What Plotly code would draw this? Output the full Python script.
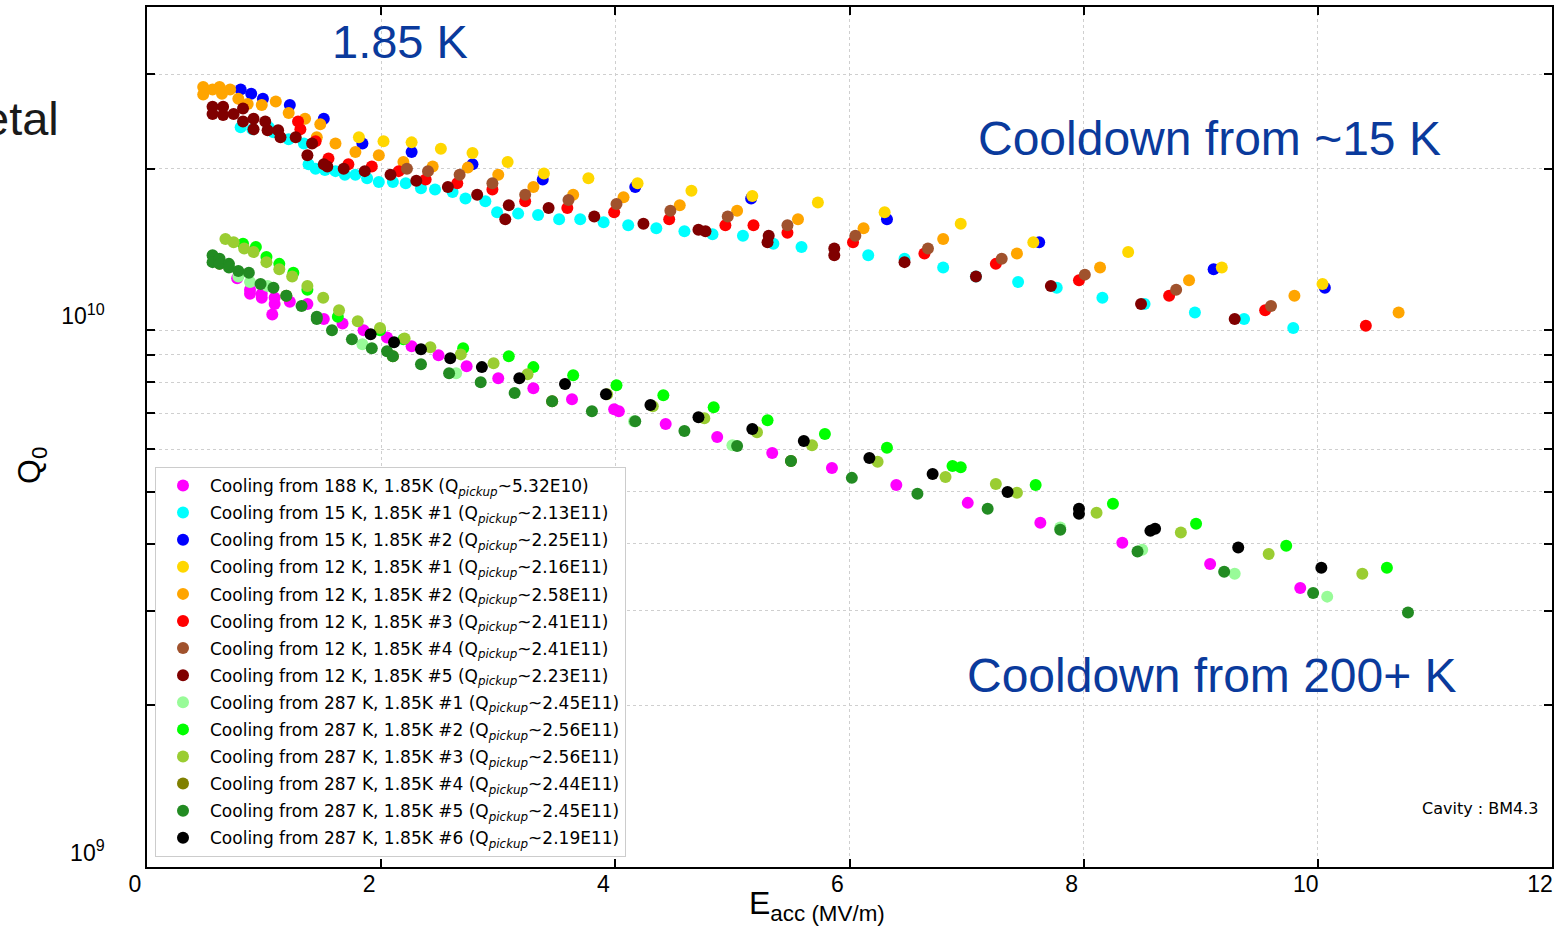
import plotly.graph_objects as go

# ---------------- data (E_acc in MV/m, Q0 in units of 1e10) ----------------
names = [
    "Cooling from 188 K, 1.85K (Q<sub><i>pickup</i></sub>~5.32E10)",
    "Cooling from 15 K, 1.85K #1 (Q<sub><i>pickup</i></sub>~2.13E11)",
    "Cooling from 15 K, 1.85K #2 (Q<sub><i>pickup</i></sub>~2.25E11)",
    "Cooling from 12 K, 1.85K #1 (Q<sub><i>pickup</i></sub>~2.16E11)",
    "Cooling from 12 K, 1.85K #2 (Q<sub><i>pickup</i></sub>~2.58E11)",
    "Cooling from 12 K, 1.85K #3 (Q<sub><i>pickup</i></sub>~2.41E11)",
    "Cooling from 12 K, 1.85K #4 (Q<sub><i>pickup</i></sub>~2.41E11)",
    "Cooling from 12 K, 1.85K #5 (Q<sub><i>pickup</i></sub>~2.23E11)",
    "Cooling from 287 K, 1.85K #1 (Q<sub><i>pickup</i></sub>~2.45E11)",
    "Cooling from 287 K, 1.85K #2 (Q<sub><i>pickup</i></sub>~2.56E11)",
    "Cooling from 287 K, 1.85K #3 (Q<sub><i>pickup</i></sub>~2.56E11)",
    "Cooling from 287 K, 1.85K #4 (Q<sub><i>pickup</i></sub>~2.44E11)",
    "Cooling from 287 K, 1.85K #5 (Q<sub><i>pickup</i></sub>~2.45E11)",
    "Cooling from 287 K, 1.85K #6 (Q<sub><i>pickup</i></sub>~2.19E11)",
]
colors = ["#ff00ff", "#00ffff", "#0000ff", "#ffd700", "#ffa500", "#ff0000", "#a0522d",
          "#800000", "#98fb98", "#00ff00", "#9acd32", "#808000", "#228b22", "#000000"]

c188_x = [0.77, 0.88, 0.88, 0.98, 0.98, 1.09, 1.09, 1.07, 1.22, 1.37, 1.51, 1.67, 1.85, 2.05,
          2.26, 2.49, 2.73, 3.00, 3.30, 3.63, 3.99, 4.03, 4.43, 4.87, 5.34, 5.85, 6.40, 7.01,
          7.63, 8.33, 9.08, 9.85]
c188_q = [1.25, 1.19, 1.17, 1.17, 1.15, 1.15, 1.12, 1.07, 1.13, 1.12, 1.05, 1.03, 1.00, 0.970,
          0.934, 0.899, 0.857, 0.814, 0.780, 0.744, 0.713, 0.707, 0.669, 0.633, 0.591, 0.554,
          0.515, 0.477, 0.438, 0.402, 0.367, 0.331]

c15a_x = [0.80, 0.90, 1.04, 1.08, 1.21, 1.34, 1.38, 1.44, 1.52, 1.61, 1.69, 1.78, 1.88, 1.98,
          2.10, 2.21, 2.34, 2.46, 2.61, 2.72, 2.89, 2.99, 3.17, 3.34, 3.52, 3.70, 3.90, 4.11,
          4.35, 4.59, 4.83, 5.09, 5.35, 5.59, 6.16, 6.47, 6.80, 7.08, 7.44, 7.77, 8.16, 8.52,
          8.95, 9.37, 9.79]
c15a_q = [2.39, 2.37, 2.39, 2.34, 2.27, 2.23, 2.04, 2.00, 1.99, 1.98, 1.95, 1.95, 1.92, 1.89,
          1.89, 1.88, 1.84, 1.83, 1.81, 1.76, 1.74, 1.66, 1.65, 1.64, 1.61, 1.61, 1.59, 1.57,
          1.55, 1.53, 1.51, 1.50, 1.45, 1.43, 1.38, 1.36, 1.31, 1.26, 1.23, 1.20, 1.15, 1.12,
          1.08, 1.05, 1.01]

c15b_x = [0.80, 0.89, 0.99, 1.22, 1.51, 1.84, 2.26, 2.78, 3.38, 4.17, 5.16, 6.32, 7.62, 9.11, 10.06]
c15b_q = [2.81, 2.76, 2.70, 2.63, 2.48, 2.23, 2.15, 2.04, 1.91, 1.85, 1.76, 1.61, 1.46, 1.30, 1.20]

c12a_x = [1.81, 2.02, 2.26, 2.51, 2.78, 3.08, 3.39, 3.77, 4.19, 4.65, 5.17, 5.73, 6.30, 6.95,
          7.57, 8.38, 9.18, 10.04]
c12a_q = [2.29, 2.25, 2.24, 2.18, 2.14, 2.06, 1.96, 1.92, 1.88, 1.82, 1.78, 1.73, 1.66, 1.58,
          1.46, 1.40, 1.31, 1.22]

c12b_x = [0.48, 0.48, 0.56, 0.62, 0.64, 0.71, 0.78, 0.86, 0.98, 1.10, 1.21, 1.35, 1.48, 1.45,
          1.61, 1.78, 1.98, 2.19, 2.44, 2.74, 3.00, 3.30, 3.64, 4.07, 4.55, 5.04, 5.56, 6.12,
          6.80, 7.43, 8.14, 8.90, 9.80, 10.69]
c12b_q = [2.84, 2.75, 2.81, 2.84, 2.76, 2.81, 2.70, 2.64, 2.63, 2.67, 2.54, 2.48, 2.42, 2.29,
          2.23, 2.15, 2.12, 2.06, 2.02, 2.01, 1.95, 1.85, 1.79, 1.77, 1.71, 1.67, 1.61, 1.55,
          1.48, 1.39, 1.31, 1.24, 1.16, 1.08]

c12c_x = [1.29, 1.31, 1.44, 1.55, 1.72, 1.92, 2.15, 2.38, 2.65, 2.95, 3.23, 3.59, 3.99, 4.46,
          4.94, 5.18, 5.47, 6.03, 6.64, 7.25, 7.96, 8.73, 9.55, 10.41]
c12c_q = [2.45, 2.37, 2.25, 2.09, 2.04, 2.02, 1.98, 1.91, 1.88, 1.83, 1.74, 1.69, 1.66, 1.61,
          1.57, 1.57, 1.52, 1.46, 1.39, 1.33, 1.24, 1.16, 1.09, 1.02]

c12d_x = [2.22, 2.40, 2.67, 2.95, 3.23, 3.60, 4.01, 4.47, 4.96, 5.47, 6.05, 6.67, 7.30, 8.01,
          8.79, 9.60]
c12d_q = [2.00, 1.98, 1.95, 1.88, 1.79, 1.75, 1.72, 1.67, 1.63, 1.57, 1.50, 1.42, 1.36, 1.27,
          1.19, 1.11]

c12e_x = [0.56, 0.56, 0.65, 0.65, 0.74, 0.82, 0.82, 0.91, 0.91, 1.01, 1.03, 1.12, 1.14, 1.27,
          1.37, 1.41, 1.51, 1.54, 1.68, 1.86, 2.08, 2.30, 2.57, 2.82, 3.09, 3.06, 3.43, 3.82,
          4.24, 4.71, 4.77, 5.31, 5.30, 5.87, 5.87, 6.47, 7.08, 7.72, 8.49, 9.29]
c12e_q = [2.61, 2.53, 2.61, 2.52, 2.53, 2.59, 2.45, 2.48, 2.37, 2.45, 2.36, 2.36, 2.29, 2.29,
          2.12, 2.23, 2.04, 2.02, 2.00, 1.98, 1.95, 1.90, 1.85, 1.79, 1.71, 1.61, 1.69, 1.63,
          1.58, 1.54, 1.53, 1.50, 1.46, 1.42, 1.38, 1.34, 1.26, 1.21, 1.12, 1.05]

c287a_x = [0.78, 0.88, 1.03, 1.84, 2.64, 4.16, 5.00, 7.80, 8.50, 9.29, 10.08]
c287a_q = [1.26, 1.23, 1.21, 0.942, 0.832, 0.677, 0.611, 0.429, 0.390, 0.352, 0.319]

c287b_x = [0.82, 0.93, 1.02, 1.13, 1.25, 1.37, 1.63, 1.99, 2.19, 2.70, 3.09, 3.30, 3.64, 4.01,
           4.41, 4.84, 5.30, 5.79, 6.32, 6.88, 6.95, 7.59, 8.25, 8.96, 9.73, 10.59]
c287b_q = [1.45, 1.43, 1.37, 1.33, 1.28, 1.19, 1.06, 1.00, 0.962, 0.926, 0.895, 0.854, 0.825,
           0.790, 0.757, 0.719, 0.680, 0.641, 0.604, 0.559, 0.556, 0.515, 0.475, 0.436, 0.397,
           0.361]

c287c_x = [0.67, 0.74, 0.83, 0.91, 1.02, 1.13, 1.24, 1.37, 1.505, 1.64, 1.80, 1.99, 2.20, 2.42,
           2.68, 2.96, 3.25, 3.93, 4.32, 4.76, 5.21, 5.68, 6.24, 6.82, 7.25, 7.43, 8.11, 8.83,
           9.58, 10.38]
c287c_q = [1.48, 1.46, 1.42, 1.40, 1.34, 1.30, 1.26, 1.21, 1.15, 1.09, 1.04, 1.01, 0.966, 0.930,
           0.902, 0.868, 0.828, 0.760, 0.722, 0.686, 0.646, 0.611, 0.569, 0.533, 0.517, 0.498,
           0.457, 0.420, 0.383, 0.352]

c287d_x = [0.62, 1.19, 2.10, 3.46, 5.50]
c287d_q = [1.33, 1.16, 0.895, 0.738, 0.571]

c287e_x = [0.56, 0.56, 0.62, 0.62, 0.70, 0.70, 0.78, 0.87, 0.97, 1.08, 1.19, 1.32, 1.45, 1.45,
           1.58, 1.75, 1.92, 2.05, 2.10, 2.34, 2.58, 2.85, 3.14, 3.46, 3.80, 4.17, 4.59, 5.04,
           5.50, 6.02, 6.58, 7.18, 7.80, 8.46, 9.20, 9.96, 10.77]
c287e_q = [1.38, 1.34, 1.36, 1.33, 1.33, 1.31, 1.29, 1.28, 1.22, 1.20, 1.16, 1.11, 1.06, 1.05,
           1.00, 0.962, 0.926, 0.914, 0.895, 0.865, 0.832, 0.800, 0.764, 0.738, 0.707, 0.677,
           0.649, 0.609, 0.571, 0.531, 0.496, 0.465, 0.425, 0.387, 0.355, 0.324, 0.298]

c287f_x = [1.91, 2.11, 2.34, 2.59, 2.86, 3.18, 3.57, 3.92, 4.30, 4.71, 5.17, 5.61, 6.17, 6.71,
           7.35, 7.96, 7.96, 8.57, 8.61, 9.32, 10.03]
c287f_q = [0.983, 0.950, 0.922, 0.887, 0.854, 0.814, 0.794, 0.760, 0.726, 0.689, 0.655, 0.622,
           0.578, 0.540, 0.500, 0.465, 0.455, 0.423, 0.427, 0.394, 0.361]

series_x = [c188_x, c15a_x, c15b_x, c12a_x, c12b_x, c12c_x, c12d_x, c12e_x,
            c287a_x, c287b_x, c287c_x, c287d_x, c287e_x, c287f_x]
series_q = [c188_q, c15a_q, c15b_q, c12a_q, c12b_q, c12c_q, c12d_q, c12e_q,
            c287a_q, c287b_q, c287c_q, c287d_q, c287e_q, c287f_q]

x_ticks = [0, 2, 4, 6, 8, 10, 12]
y_ticks = [1e9, 2e9, 3e9, 4e9, 5e9, 6e9, 7e9, 8e9, 9e9, 1e10, 2e10, 3e10, 4e10]
y_ticktext = ["10<sup>9</sup>", "", "", "", "", "", "", "", "", "10<sup>10</sup>", "", "", ""]

# ---------------- figure ----------------
fig = go.Figure()
for i, (nm, col, xs, qs) in enumerate(zip(names, colors, series_x, series_q)):
    fig.add_trace(go.Scatter(
        x=xs, y=[q * 1e10 for q in qs], mode="markers", name=nm,
        legendgroup=f"g{i}",
        marker=dict(color=col, size=12, line=dict(width=0)),
    ))

axis_font = "Liberation Sans Narrow, Arial Narrow, Liberation Sans, Arial, sans-serif"
grid = dict(showgrid=True, gridcolor="#cfcfcf", griddash="dot", gridwidth=1,
            showline=True, linecolor="black", linewidth=1.5, mirror="ticks",
            ticks="inside", ticklen=8, tickwidth=1.5, tickcolor="black", zeroline=False)

fig.update_xaxes(range=[0, 12], tickvals=x_ticks, ticktext=[str(v) for v in x_ticks],
                 tickfont=dict(family=axis_font, size=23, color="black"),
                 ticklabelshift=-12, ticklabelstandoff=-4, **grid)
fig.update_yaxes(type="log", range=[9, 10.6025], tickvals=y_ticks, ticktext=y_ticktext,
                 tickfont=dict(family=axis_font, size=23, color="black"),
                 ticklabelshift=-14, ticklabelstandoff=36, **grid)

blue = "#0a3a9c"
annos = [
    dict(text="1.85 K", x=400, y=40, size=47, color=blue, fam="Arial, Liberation Sans"),
    dict(text="Cooldown from ~15 K", x=1209, y=137, size=48, color=blue, fam="Arial, Liberation Sans"),
    dict(text="Cooldown from 200+ K", x=1212, y=675, size=48, color=blue, fam="Arial, Liberation Sans"),
]
W, H = 1568, 926
L, R, T, B = 147, 16, 5, 59
pw, ph = W - L - R, H - T - B


def px2paper(px, py):
    return (px - L) / pw, 1 - (py - T) / ph


for a in annos:
    xp, yp = px2paper(a["x"], a["y"])
    fig.add_annotation(text=a["text"], x=xp, y=yp, xref="paper", yref="paper",
                       xanchor="center", yanchor="middle", showarrow=False,
                       font=dict(family=a["fam"], size=a["size"], color=a["color"]))

xp, yp = px2paper(61, 117)
fig.add_annotation(text="etal", x=xp, y=yp, xref="paper", yref="paper", xanchor="right",
                   yanchor="middle", showarrow=False,
                   font=dict(family="Arial, Liberation Sans", size=47, color="#1a1a1a"))

xp, yp = px2paper(1540, 808)
fig.add_annotation(text="Cavity : BM4.3", x=xp, y=yp, xref="paper", yref="paper",
                   xanchor="right", yanchor="middle", showarrow=False,
                   font=dict(family="DejaVu Sans", size=16, color="black"))

xp, yp = px2paper(817, 906)
fig.add_annotation(text="E<sub>acc (MV/m)</sub>", x=xp, y=yp, xref="paper", yref="paper",
                   xanchor="center", yanchor="middle", showarrow=False,
                   font=dict(family=axis_font, size=32, color="black"))

xp, yp = px2paper(32, 465)
fig.add_annotation(text="Q<sub>0</sub>", x=xp, y=yp, xref="paper", yref="paper",
                   xanchor="center", yanchor="middle", showarrow=False, textangle=-90,
                   font=dict(family=axis_font, size=32, color="black"))

lx, ly = px2paper(155, 466)
fig.update_layout(
    width=W, height=H,
    margin=dict(l=L, r=R, t=T, b=B),
    paper_bgcolor="white", plot_bgcolor="white",
    showlegend=True,
    legend=dict(x=lx, y=ly, xanchor="left", yanchor="top",
                bgcolor="white", bordercolor="#cccccc", borderwidth=1,
                font=dict(family="DejaVu Sans", size=17, color="black"),
                itemwidth=44, tracegroupgap=2),
)

fig.write_html("out.html")
